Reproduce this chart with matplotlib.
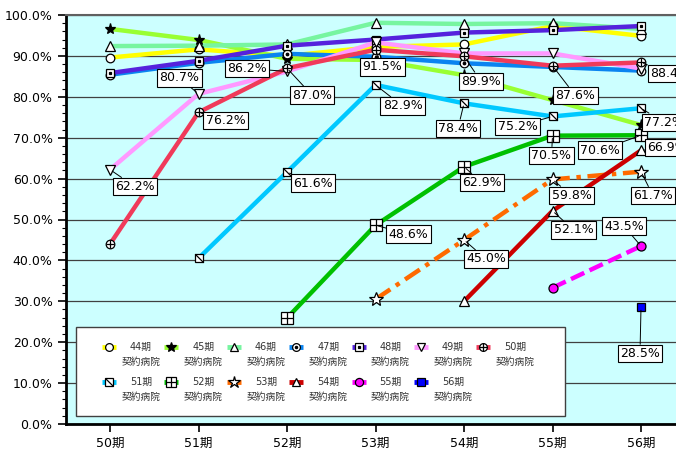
import numpy as np
import matplotlib
matplotlib.use("Agg")
import matplotlib.pyplot as plt
from matplotlib.path import Path
from matplotlib.patches import Rectangle

plt.rcParams['font.family'] = ['DejaVu Sans', 'Noto Sans CJK JP']

nan = np.nan
categories = ['50期', '51期', '52期', '53期', '54期', '55期', '56期']
series_names = ['44期', '45期', '46期', '47期', '48期', '49期', '50期',
                '51期', '52期', '53期', '54期', '55期', '56期']
s44 = [89.6, 91.6, 90.0, 92.2, 92.8, 97.3, 94.9]
s45 = [96.6, 93.9, 89.3, 89.0, 85.3, 79.2, 73.1]
s46 = [92.4, 92.5, 92.8, 98.1, 97.8, 98.0, 96.6]
s47 = [85.4, 88.3, 90.5, 89.8, 88.2, 87.3, 86.4]
s48 = [85.8, 88.8, 92.5, 94.0, 95.7, 96.3, 97.3]
s49 = [62.2, 80.7, 86.2, 93.3, 90.6, 90.6, 86.9]
s50 = [44.0, 76.2, 87.0, 91.5, 89.9, 87.6, 88.4]
s51 = [nan, 40.5, 61.6, 82.9, 78.4, 75.2, 77.2]
s52 = [nan, nan, 25.9, 48.6, 62.9, 70.5, 70.6]
s53 = [nan, nan, nan, 30.5, 45.0, 59.8, 61.7]
s54 = [nan, nan, nan, nan, 30.0, 52.1, 66.9]
s55 = [nan, nan, nan, nan, nan, 33.3, 43.5]
s56 = [nan, nan, nan, nan, nan, nan, 28.5]
values = [s44, s45, s46, s47, s48, s49, s50, s51, s52, s53, s54, s55, s56]

colors = ['#FFFF00', '#99FF33', '#77F5A0', '#0A84F0', '#5522DD', '#FF99FF', '#F03A5A',
          '#00C8FF', '#00C000', '#FF6A00', '#CC0000', '#FF00FF', '#0000FF']
dashes = [None] * 9 + [(4, 1.5, 1, 1.5), None, (3.3, 1.3), None]

diag = Path([(-1, 1), (1, -1)], [Path.MOVETO, Path.LINETO])
markers = [
    [('o', 'white', 6.2)],
    [('*', 'black', 8)],
    [('^', 'white', 6.5)],
    [('o', 'white', 6.2), ('o', 'black', 1.8)],
    [('s', 'white', 6), ('s', 'black', 1.8)],
    [('v', 'white', 6.5)],
    [('o', 'white', 6.2), ('+', 'black', 6.2)],
    [('s', 'white', 6.2), (diag, 'black', 6.2)],
    [('s', 'white', 8), ('+', 'black', 8)],
    [('*', 'white', 10)],
    [('^', 'white', 6.5)],
    [('o', '#FF00FF', 6.5)],
    [('s', '#0000FF', 6.2)],
]

# (series index, category index, label offset in pixels)
labels = [
    (5, 0, 25, -17), (5, 1, -19, 16), (6, 1, 27, -8), (5, 2, -40, 3),
    (6, 2, 25, -27), (7, 2, 26, -11), (6, 3, 7, -17), (7, 3, 27, -21),
    (8, 3, 33, -9), (6, 4, 17, -25), (7, 4, -6, -25), (8, 4, 18, -16),
    (9, 4, 22, -19), (6, 5, 23, -30), (7, 5, -35, -10), (8, 5, -1, -20),
    (9, 5, 19, -16), (10, 5, 21, -19), (6, 6, 29, -11), (7, 6, 23, -14),
    (8, 6, -41, -15), (9, 6, 12, -24), (10, 6, 26, 3), (11, 6, -17, 20),
    (12, 6, -1, -46),
]

W, H = 676, 449
fig = plt.figure(figsize=(W / 100, H / 100), dpi=100)
ax = fig.add_axes([65.75 / W, 25 / H, 619.5 / W, 409 / H])
ax.set_facecolor('#CCFFFF')
x = np.arange(len(categories))


def ax_xy(px, py):
    return (px - 65.75) / 619.5, (424 - py) / 409


for i, (vals, col, dsh, mk) in enumerate(zip(values, colors, dashes, markers)):
    v = np.array(vals, dtype=float)
    ln, = ax.plot(x, v, color=col, lw=3.2, solid_capstyle='butt', zorder=2 + i * 0.01)
    if dsh is not None:
        ln.set_dashes(dsh)
    for m, fc, ms in mk:
        ax.plot(x, v, ls='none', marker=m, ms=ms, mfc=fc, mec='black', mew=0.9,
                color='black', zorder=4 + i * 0.01)

for si, ci, dx, dy in labels:
    v = values[si][ci]
    ax.annotate(f"{v:.1f}%", xy=(ci, v), xytext=(dx, dy), textcoords='offset pixels',
                ha='center', va='center', fontsize=9, zorder=10,
                bbox=dict(boxstyle='square,pad=0.18', fc='white', ec='black', lw=0.8),
                arrowprops=dict(arrowstyle='-', color='black', lw=0.7, shrinkA=0, shrinkB=2))

ax.set_xlim(-0.5, 6.5)
ax.set_ylim(0, 100)
ax.set_xticks(x)
ax.set_xticklabels(categories, fontsize=9)
ax.set_yticks(np.arange(0, 101, 10))
ax.set_yticklabels([f"{t:.1f}%" for t in np.arange(0, 101, 10)], fontsize=9)
ax.set_yticks(np.arange(0, 101, 2), minor=True)
ax.tick_params(axis='y', which='major', length=6, width=1.2, direction='out')
ax.tick_params(axis='y', which='minor', length=3, width=0.8, direction='out')
ax.tick_params(axis='x', length=6, width=1.2, direction='out')
ax.grid(axis='y', which='major', color='#404040', lw=0.9, zorder=1)
ax.set_axisbelow(True)
for s in ['left', 'bottom']:
    ax.spines[s].set_linewidth(2)
    ax.spines[s].set_color('black')
ax.spines['top'].set_color('#606060')
ax.spines['top'].set_linewidth(1.5)
ax.spines['right'].set_visible(False)

# manual legend
x0, y0 = ax_xy(76, 416)
x1, y1 = ax_xy(565, 327)
ax.add_patch(Rectangle((x0, y0), x1 - x0, y1 - y0, transform=ax.transAxes,
                       fc='white', ec='#404040', lw=1.0, zorder=15, clip_on=False))
for k in range(len(series_names)):
    row, colk = divmod(k, 7)
    hx = 109 + 62.4 * colk
    hy = 347 + 35 * row
    lx0, ly = ax_xy(hx - 7, hy)
    lx1, _ = ax_xy(hx + 7, hy)
    mx, _ = ax_xy(hx, hy)
    ax.plot([lx0, lx1], [ly, ly], color=colors[k], lw=3.5, solid_capstyle='butt',
            transform=ax.transAxes, zorder=16, clip_on=False)
    for m, fc, ms in markers[k]:
        ax.plot([mx], [ly], ls='none', marker=m, ms=ms * 0.9, mfc=fc, mec='black', mew=0.9,
                color='black', transform=ax.transAxes, zorder=17, clip_on=False)
    tx, ty1 = ax_xy(hx + 32, hy)
    _, ty2 = ax_xy(hx + 32, hy + 14.5)
    ax.text(tx, ty1, series_names[k], transform=ax.transAxes, ha='center', va='center',
            fontsize=7, color='#333333', zorder=18)
    ax.text(tx, ty2, '契約病院', transform=ax.transAxes, ha='center', va='center',
            fontsize=7, color='#333333', zorder=18)

fig.savefig('out.png', dpi=100)
